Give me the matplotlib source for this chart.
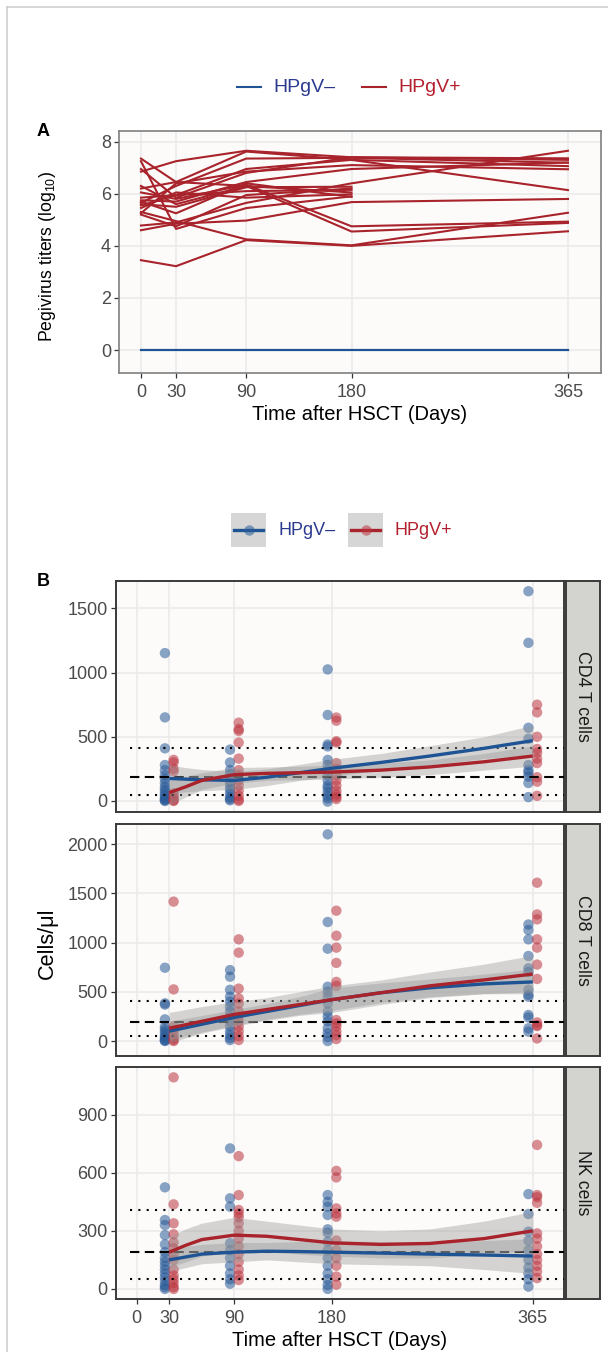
import numpy as np
import matplotlib
matplotlib.use("Agg")
import matplotlib.pyplot as plt
from matplotlib.lines import Line2D
from matplotlib.patches import Rectangle

plt.rcParams['font.family'] = ['Liberation Sans', 'DejaVu Sans']
plt.rcParams['mathtext.default'] = 'regular'

# ---------------- data: panel A (log10 titers) ----------------
days_A = [0, 30, 90, 180, 365]
neg_titer = [0, 0, 0, 0, 0]
pos_titers = [
    [3.45, 3.22, 4.22, 4.00, 4.56],
    [5.30, 4.95, 4.25, 4.02, 5.27],
    [6.05, 5.80, 6.35, 4.75, 4.93],
    [6.20, 6.45, 6.30, 4.55, 4.88],
    [4.60, 4.85, 4.97, 5.68, 5.80],
    [4.78, 4.90, 5.65, 6.40, 7.65],
    [7.35, 6.45, 7.62, 7.30, 6.14],
    [7.25, 4.65, 5.45, 5.90, None],
    [6.85, 7.25, 7.65, 7.40, 7.36],
    [6.95, 5.85, 6.80, 7.40, 7.30],
    [5.65, 6.30, 7.35, 7.38, 7.19],
    [5.55, 5.95, 6.95, 7.30, 7.06],
    [5.25, 6.40, 6.85, 7.10, 6.94],
    [5.75, 5.70, 6.45, 6.95, 7.20],
    [5.60, 5.50, 6.25, 6.27, None],
    [5.85, 5.95, 6.10, 6.15, None],
    [6.30, 5.60, 6.30, 6.05, None],
    [5.45, 6.05, 5.85, 5.98, None],
    [5.70, 5.25, 6.40, 5.88, None],
    [5.20, 4.75, 5.95, 6.20, None],
]

# ---------------- data: panel B (cells/ul) ----------------
sample_days = [30, 90, 180, 365]
cd4_neg = [[1152, 651, 410, 280, 240, 200, 170, 140, 110, 90, 70, 50, 35, 20, 10, 5, 0],
           [400, 300, 240, 210, 180, 150, 120, 90, 60, 30, 15, 5],
           [1025, 670, 440, 425, 320, 280, 240, 200, 160, 120, 100, 70, 40, 20, -5],
           [1634, 1232, 570, 485, 280, 240, 220, 190, 140, 30]]
cd4_pos = [[320, 300, 250, 230, 60, 40, 20, 5, 0],
           [610, 560, 545, 455, 330, 240, 200, 160, 120, 80, 40, 10, 0],
           [650, 625, 465, 455, 295, 250, 200, 160, 120, 80, 50, 30, 15],
           [750, 690, 500, 405, 375, 330, 295, 185, 150, 40]]
cd8_neg = [[744, 382, 370, 220, 146, 120, 95, 70, 44, 30, 10, 0, 5],
           [720, 653, 520, 450, 400, 350, 300, 250, 200, 150, 100, 60, 30, 10],
           [2098, 1208, 937, 551, 500, 450, 380, 300, 250, 200, 130, 80, 40, 0],
           [1183, 1127, 1032, 863, 738, 700, 520, 470, 450, 264, 240, 129, 95]]
cd8_pos = [[1415, 524, 150, 100, 60, 30, 10, 0],
           [1032, 897, 532, 433, 380, 300, 250, 200, 150, 100, 50, 10],
           [1323, 1069, 948, 793, 600, 560, 213, 180, 150, 100, 60, 20],
           [1607, 1285, 1235, 1032, 948, 776, 630, 189, 160, 152, 26]]
nk_neg = [[525, 356, 330, 278, 230, 190, 160, 140, 120, 100, 80, 60, 40, 20, 10, 0],
          [726, 468, 425, 236, 200, 160, 120, 80, 50, 27],
          [485, 450, 425, 382, 308, 290, 244, 200, 160, 120, 80, 50, 20, 0],
          [490, 387, 296, 249, 200, 150, 110, 80, 50, 12]]
nk_pos = [[1093, 437, 339, 282, 240, 210, 180, 150, 100, 70, 50, 30, 10, 0],
          [686, 485, 408, 390, 370, 339, 300, 260, 220, 180, 140, 100, 70, 46],
          [610, 576, 416, 390, 373, 250, 200, 160, 120, 64, 22],
          [744, 485, 474, 445, 287, 260, 220, 180, 150, 120, 90, 56]]

# smoothed trends with confidence bands
fit_days = [30, 45, 60, 90, 120, 150, 180, 225, 270, 320, 365]
cd4_neg_fit = [175, 170, 165, 160, 185, 220, 255, 300, 350, 410, 470]
cd4_neg_lo = [60, 70, 80, 90, 120, 160, 190, 240, 280, 330, 360]
cd4_neg_hi = [280, 260, 245, 230, 250, 285, 325, 370, 430, 500, 590]
cd4_pos_fit = [65, 110, 160, 205, 215, 220, 225, 240, 265, 305, 350]
cd4_pos_lo = [-30, 30, 90, 140, 160, 165, 170, 185, 205, 240, 270]
cd4_pos_hi = [160, 190, 220, 260, 265, 270, 280, 295, 320, 370, 430]
cd8_neg_fit = [100, 135, 170, 240, 300, 360, 420, 490, 540, 580, 600]
cd8_neg_lo = [10, 50, 90, 160, 220, 270, 310, 390, 450, 480, 480]
cd8_neg_hi = [200, 230, 260, 320, 380, 450, 540, 590, 630, 680, 730]
cd8_pos_fit = [130, 165, 200, 270, 320, 370, 420, 490, 560, 620, 680]
cd8_pos_lo = [-20, 30, 80, 150, 210, 260, 290, 370, 440, 480, 500]
cd8_pos_hi = [290, 320, 350, 400, 440, 500, 560, 620, 700, 780, 870]
nk_neg_fit = [150, 165, 180, 190, 195, 193, 190, 185, 180, 175, 170]
nk_neg_lo = [90, 110, 130, 140, 150, 140, 130, 125, 120, 100, 80]
nk_neg_hi = [210, 220, 230, 240, 240, 245, 250, 245, 240, 250, 260]
nk_pos_fit = [190, 225, 255, 278, 272, 255, 238, 230, 235, 260, 300]
nk_pos_lo = [110, 140, 170, 190, 195, 180, 170, 160, 160, 180, 200]
nk_pos_hi = [270, 310, 340, 370, 350, 330, 310, 300, 310, 350, 400]

ref_levels = [50, 190, 410]
ref_styles = ['dotted', 'dashed', 'dotted']

x_ticks = [0, 30, 90, 180, 365]
groups = ['HPgV\u2013', 'HPgV+']

# ---------------- styling ----------------
W, H = 614, 1352
fig = plt.figure(figsize=(W / 100, H / 100), dpi=100)
fig.patch.set_facecolor('white')

BLUE = '#1F5494'
RED = '#A8232B'
PT_BLUE = '#2A5A98'
PT_RED = '#BB3440'
LEG_BLUE = '#2B3A8F'
LEG_RED = '#B3202E'
PANEL_BG = '#FCFBF9'
GRID = '#EAEAEA'
TICK_LBL = '#4A4A4A'


def rect(l, t, r, b):
    return [l / W, 1 - b / H, (r - l) / W, (b - t) / H]


def fx(px):
    return px / W


def fy(py):
    return 1 - py / H


# outer frame lines
fig.add_artist(Line2D([fx(7.3), fx(607)], [fy(7.3), fy(7.3)], color='#CFCFCF', lw=1.2))
fig.add_artist(Line2D([fx(7.3), fx(7.3)], [fy(7.3), 0], color='#CFCFCF', lw=1.2))


def style_axes(ax, spine_color, spine_lw):
    ax.set_facecolor(PANEL_BG)
    for s in ax.spines.values():
        s.set_color(spine_color)
        s.set_linewidth(spine_lw)
    ax.grid(True, color=GRID, lw=1.1, zorder=0)
    ax.set_axisbelow(True)
    ax.tick_params(colors='#333333', labelcolor=TICK_LBL, labelsize=13, length=3.5, width=0.9)
    ax.tick_params(axis='x', pad=4.5)
    ax.tick_params(axis='y', pad=2.5)


# ---------------- panel A ----------------
axA = fig.add_axes(rect(119.3, 130.7, 600.7, 373))
style_axes(axA, '#808080', 1.2)
axA.plot(days_A, neg_titer, color=BLUE, lw=1.6, zorder=3)
for tr in pos_titers:
    d = [x for x, v in zip(days_A, tr) if v is not None]
    v = [v for v in tr if v is not None]
    axA.plot(d, v, color=RED, lw=1.5, zorder=3)
axA.set_xlim(-18.5, 393)
axA.set_ylim(-0.88, 8.42)
axA.set_xticks(x_ticks)
axA.set_yticks([0, 2, 4, 6, 8])

fig.text(fx(360), fy(415), 'Time after HSCT (Days)', ha='center', va='center', fontsize=14.5)
fig.text(fx(47), fy(256), 'Pegivirus titers (log$_{10}$)', ha='center', va='center',
         rotation=90, fontsize=12.7)
fig.text(fx(43.5), fy(131.5), 'A', ha='center', va='center', fontsize=13, fontweight='bold')

# legend A
for (x0, x1, tx, lab, lc, tc) in [(237, 261, 273, groups[0], BLUE, LEG_BLUE),
                                   (362, 386, 398, groups[1], RED, LEG_RED)]:
    fig.add_artist(Line2D([fx(x0), fx(x1)], [fy(87), fy(87)], color=lc, lw=1.5))
    fig.text(fx(tx), fy(87), lab, ha='left', va='center', fontsize=14, color=tc)

# ---------------- panel B ----------------
panels = [
    ('CD4 T cells', cd4_neg, cd4_pos, (cd4_neg_fit, cd4_neg_lo, cd4_neg_hi),
     (cd4_pos_fit, cd4_pos_lo, cd4_pos_hi), (580.7, 812), (-86, 1716), [0, 500, 1000, 1500]),
    ('CD8 T cells', cd8_neg, cd8_pos, (cd8_neg_fit, cd8_neg_lo, cd8_neg_hi),
     (cd8_pos_fit, cd8_pos_lo, cd8_pos_hi), (824.3, 1055.7), (-149, 2200), [0, 500, 1000, 1500, 2000]),
    ('NK cells', nk_neg, nk_pos, (nk_neg_fit, nk_neg_lo, nk_neg_hi),
     (nk_pos_fit, nk_pos_lo, nk_pos_hi), (1067.3, 1299), (-52, 1145), [0, 300, 600, 900]),
]

dodge = 4.0
for i, (name, neg, pos, nfit, pfit, (top, bot), ylim, yt) in enumerate(panels):
    ax = fig.add_axes(rect(116, top, 564, bot))
    style_axes(ax, '#3A3A3A', 1.4)
    for day, vals in zip(sample_days, neg):
        ax.scatter([day - dodge] * len(vals), vals, s=56, color=PT_BLUE, alpha=0.55,
                   edgecolors='none', zorder=3)
    for day, vals in zip(sample_days, pos):
        ax.scatter([day + dodge] * len(vals), vals, s=56, color=PT_RED, alpha=0.55,
                   edgecolors='none', zorder=3)
    for lvl, ls in zip(ref_levels, ref_styles):
        dash = (0, (1, 3)) if ls == 'dotted' else (0, (4.5, 2.6))
        ax.hlines(lvl, -6, 394, colors='black', linestyles=[dash], lw=1.5, zorder=4)
    for fit, lo, hi in (nfit, pfit):
        ax.fill_between(fit_days, lo, hi, color='#999999', alpha=0.4, lw=0, zorder=5)
    ax.plot(fit_days, nfit[0], color=BLUE, lw=2.4, zorder=6, solid_capstyle='butt',
            solid_joinstyle='round')
    ax.plot(fit_days, pfit[0], color=RED, lw=2.4, zorder=6, solid_capstyle='butt',
            solid_joinstyle='round')
    ax.set_xlim(-19.1, 393.8)
    ax.set_ylim(*ylim)
    ax.set_xticks(x_ticks)
    ax.set_yticks(yt)
    if i < 2:
        ax.tick_params(axis='x', length=0, labelbottom=False)
    # strip
    sax = fig.add_axes(rect(566, top, 600, bot))
    sax.set_facecolor('#D3D3CF')
    for s in sax.spines.values():
        s.set_color('#3A3A3A')
        s.set_linewidth(1.4)
    sax.set_xticks([])
    sax.set_yticks([])
    sax.text(0.5, 0.5, name, rotation=270, ha='center', va='center', fontsize=12.8,
             color='#1A1A1A', transform=sax.transAxes)

fig.text(fx(340), fy(1340), 'Time after HSCT (Days)', ha='center', va='center', fontsize=14.5)
fig.text(fx(47), fy(943), 'Cells/\u03bcl', ha='center', va='center', rotation=90, fontsize=15.6)
fig.text(fx(43.5), fy(582), 'B', ha='center', va='center', fontsize=13, fontweight='bold')

# legend B
for (x0, tx, lab, lc, pc, tc) in [(231, 279, groups[0], BLUE, PT_BLUE, LEG_BLUE),
                                   (348, 395, groups[1], RED, PT_RED, LEG_RED)]:
    fig.add_artist(Rectangle((fx(x0), fy(547.3)), 35 / W, 34.6 / H, transform=fig.transFigure,
                             facecolor='#D6D6D6', edgecolor='none'))
    fig.add_artist(Line2D([fx(x0 + 3), fx(x0 + 32)], [fy(530), fy(530)], color=lc, lw=2.4))
    fig.add_artist(Line2D([fx(x0 + 17.5)], [fy(530)], marker='o', markersize=7.5,
                          markerfacecolor=pc, markeredgecolor='none', alpha=0.55, lw=0))
    fig.text(fx(tx), fy(530), lab, ha='left', va='center', fontsize=13, color=tc)

fig.savefig('out.png', dpi=100)
